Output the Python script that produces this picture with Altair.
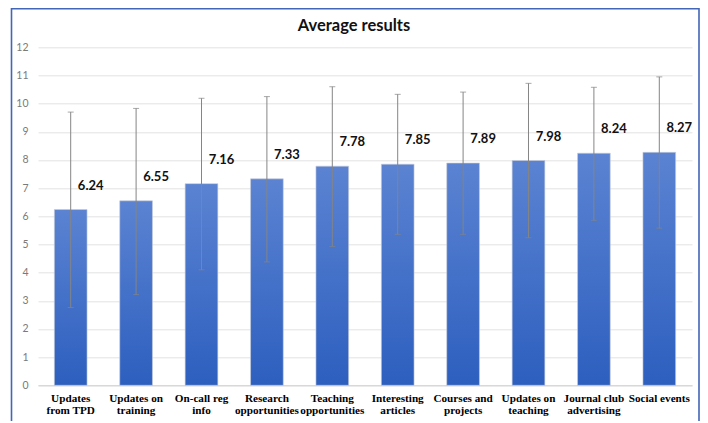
import altair as alt
import pandas as pd

categories = [
    "Updates\nfrom TPD",
    "Updates on\ntraining",
    "On-call reg\ninfo",
    "Research\nopportunities",
    "Teaching\nopportunities",
    "Interesting\narticles",
    "Courses and\nprojects",
    "Updates on\nteaching",
    "Journal club\nadvertising",
    "Social events",
]
means = [6.24, 6.55, 7.16, 7.33, 7.78, 7.85, 7.89, 7.98, 8.24, 8.27]
err_low = [2.76, 3.22, 4.10, 4.38, 4.93, 5.36, 5.36, 5.24, 5.86, 5.58]
err_high = [9.70, 9.83, 10.19, 10.25, 10.60, 10.33, 10.41, 10.72, 10.58, 10.95]
y_ticks = list(range(0, 13))

df = pd.DataFrame({
    "cat": categories,
    "mean": means,
    "low": err_low,
    "high": err_high,
    "label": [f"{v:.2f}" for v in means],
})

W, H = 654, 338

x_axis = alt.Axis(
    title=None,
    labelAngle=0,
    labelExpr="split(datum.value, '\\n')",
    labelFont="Liberation Serif",
    labelFontWeight="bold",
    labelFontSize=11.2,
    labelColor="#000000",
    labelLineHeight=12.5,
    labelPadding=7,
    ticks=False,
    domain=True,
    domainColor="#d0d0d0",
    labelLimit=200,
)
y_axis = alt.Axis(
    title=None,
    values=y_ticks,
    labelFont="Lato",
    labelFontSize=10.5,
    labelColor="#7a7a7a",
    labelPadding=10,
    labelOverlap=False,
    ticks=False,
    domain=False,
    gridColor="#e2e2e2",
    gridWidth=1,
)
x_scale = alt.Scale(paddingInner=0.5, paddingOuter=0.25)
y_scale = alt.Scale(domain=[0, 12], nice=False)


def X():
    return alt.X("cat:N", sort=categories, scale=x_scale, axis=x_axis)


def Y(field):
    return alt.Y(field, type="quantitative", scale=y_scale, axis=y_axis)


base = alt.Chart(df)

bars = base.mark_bar(
    color=alt.Gradient(
        gradient="linear",
        stops=[
            alt.GradientStop(color="#5b83d2", offset=0),
            alt.GradientStop(color="#2d5fbf", offset=1),
        ],
        x1=0, x2=0, y1=0, y2=1,
    ),
    stroke="#c8cdd6",
    strokeWidth=0.6,
).encode(x=X(), y=Y("mean"))

rules = base.mark_rule(color="#858585", strokeWidth=1).encode(
    x=X(), y=Y("low"), y2="high:Q"
)

caps_hi = base.mark_tick(color="#858585", thickness=1, size=6, orient="horizontal").encode(
    x=X(), y=Y("high")
)
caps_lo = base.mark_tick(color="#858585", thickness=1, size=6, orient="horizontal").encode(
    x=X(), y=Y("low")
)

labels = base.mark_text(
    font="Lato",
    fontWeight="bold",
    fontSize=13,
    color="#111111",
    dx=20,
    dy=-24,
    baseline="middle",
    align="center",
).encode(x=X(), y=Y("mean"), text="label:N")

frame = alt.Chart(pd.DataFrame({"k": [0]})).mark_rect(
    fill=None, stroke="#4466b6", strokeWidth=1.6
).encode(
    x=alt.value(-26.5),
    x2=alt.value(661),
    y=alt.value(-38.5),
    y2=alt.value(440),
)

chart = alt.layer(bars, rules, caps_hi, caps_lo, labels, frame).properties(
    width=W,
    height=H,
    title=alt.TitleParams(
        text="Average results",
        font="Lato",
        fontSize=16.5,
        fontWeight="bold",
        color="#111111",
        anchor="middle",
        offset=-27,
        dx=-11,
    ),
    background="white",
    autosize=alt.AutoSizeParams(type="none"),
    padding={"left": 30, "top": 39.3, "right": 8, "bottom": 36},
).configure_view(stroke=None)

chart.save("out.html", embed_options={"renderer": "svg", "actions": False})
